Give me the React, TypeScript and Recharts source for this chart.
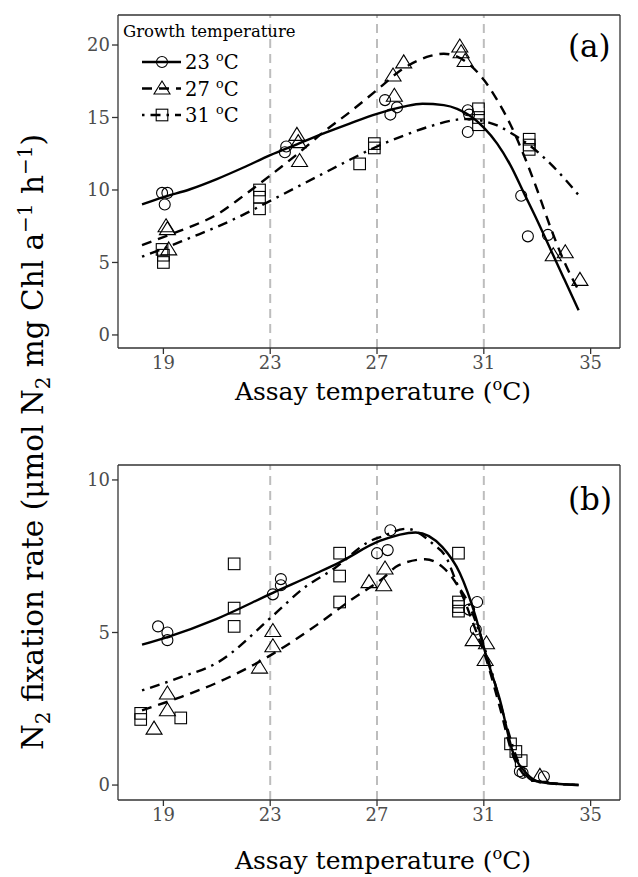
import React from "react";
import { ComposedChart, Line, Scatter, XAxis, YAxis, ReferenceLine } from "recharts";

const serif = '"DejaVu Serif", "Liberation Serif", serif';

// axis ticks
const tempTicks = [19, 23, 27, 31, 35];
const growthTemps = [23, 27, 31];
const rateTicksA = [0, 5, 10, 15, 20];
const rateTicksB = [0, 5, 10];
const seriesLabels = ["23", "27", "31"];

// panel (a) measurements
const a23X = [18.95, 19.15, 19.05, 23.6, 23.55, 27.3, 27.5, 27.75, 30.4, 30.45, 30.4, 32.4, 32.65, 33.4];
const a23Y = [9.8, 9.8, 9.0, 13.0, 12.6, 16.2, 15.2, 15.7, 15.5, 15.2, 14.0, 9.6, 6.8, 6.9];
const a27X = [19.1, 19.15, 19.2, 24.0, 24.05, 24.1, 27.6, 27.65, 28.0, 30.1, 30.15, 30.3, 33.6, 34.05, 34.6];
const a27Y = [7.5, 7.3, 5.9, 13.8, 13.3, 12.0, 17.9, 16.5, 18.8, 19.9, 19.5, 18.9, 5.5, 5.7, 3.8];
const a31X = [18.95, 19.0, 19.0, 22.6, 22.6, 22.6, 26.35, 26.9, 26.9, 30.8, 30.8, 30.8, 32.7, 32.7, 32.7];
const a31Y = [5.9, 5.5, 5.0, 10.0, 9.5, 8.7, 11.8, 13.2, 12.9, 15.6, 15.0, 14.5, 13.5, 13.1, 12.8];

// panel (a) fitted curves
const a23FitX = [18.2, 19, 20, 21, 22, 23, 24, 25, 26, 27, 28, 28.7, 29.5, 30, 30.5, 31, 31.5, 32, 32.5, 33, 33.5, 34, 34.55];
const a23FitY = [9.0, 9.5, 10.05, 10.75, 11.55, 12.4, 13.15, 13.9, 14.6, 15.25, 15.75, 15.95, 15.85, 15.6, 15.1, 14.3, 13.2, 11.7, 9.8, 7.9, 5.9, 3.9, 1.7];
const a27FitX = [18.2, 19, 20, 21, 22, 23, 24, 25, 26, 27, 28, 28.5, 29, 29.5, 30, 30.5, 31, 31.5, 32, 32.5, 33, 33.5, 34, 34.6];
const a27FitY = [6.2, 6.75, 7.45, 8.3, 9.6, 11.0, 12.45, 14.0, 15.4, 16.9, 18.4, 18.9, 19.25, 19.4, 19.2, 18.6, 17.6, 16.2, 14.5, 12.4, 10.0, 7.4, 5.1, 2.9];
const a31FitX = [18.2, 19, 20, 21, 22, 23, 24, 25, 26, 27, 28, 29, 30, 30.5, 31, 31.5, 32, 32.7, 33.5, 34.55];
const a31FitY = [5.4, 5.95, 6.7, 7.45, 8.3, 9.25, 10.2, 11.15, 12.1, 13.0, 13.75, 14.4, 14.85, 14.9, 14.75, 14.45, 13.95, 13.1, 11.8, 9.65];

// panel (b) measurements
const b23X = [18.8, 19.15, 19.15, 23.1, 23.4, 23.4, 27.0, 27.4, 27.5, 30.45, 30.75, 30.7, 32.35, 32.45, 33.25];
const b23Y = [5.2, 5.0, 4.75, 6.25, 6.75, 6.55, 7.6, 7.7, 8.35, 5.75, 6.0, 5.1, 0.45, 0.4, 0.28];
const b27X = [18.65, 19.15, 19.15, 22.6, 23.1, 23.1, 26.7, 27.25, 27.3, 30.6, 31.1, 31.05, 33.1];
const b27Y = [1.85, 3.0, 2.45, 3.85, 5.05, 4.55, 6.65, 6.55, 7.1, 4.75, 4.65, 4.1, 0.3];
const b31X = [18.15, 18.15, 19.65, 21.65, 21.65, 21.65, 25.6, 25.6, 25.6, 30.05, 30.05, 30.05, 30.05, 32.0, 32.2, 32.4];
const b31Y = [2.35, 2.15, 2.2, 7.25, 5.8, 5.2, 7.6, 6.85, 6.0, 7.6, 6.0, 5.85, 5.7, 1.35, 1.1, 0.8];

// panel (b) fitted curves
const b23FitX = [18.2, 19.15, 21, 23.1, 24.75, 25.6, 27.1, 28.45, 29.45, 30.1, 30.7, 31.1, 31.6, 32.1, 32.6, 33.1, 34.55];
const b23FitY = [4.6, 4.85, 5.45, 6.3, 6.95, 7.3, 8.0, 8.28, 7.8, 6.95, 5.5, 4.2, 2.8, 1.05, 0.38, 0.1, 0.0];
const b27FitX = [18.2, 19.7, 21, 23.1, 24.75, 26, 27.25, 27.8, 28.8, 29.45, 30.1, 30.6, 31.1, 31.6, 32.1, 32.85, 34.55];
const b27FitY = [2.45, 2.9, 3.35, 4.3, 5.25, 6.05, 6.8, 7.2, 7.4, 7.15, 6.4, 5.3, 4.1, 2.55, 0.95, 0.15, 0.0];
const b31FitX = [18.2, 19.7, 21, 23.1, 24.25, 25.4, 26.75, 27.2, 28.1, 29.1, 29.6, 30.0, 30.4, 30.8, 31.3, 31.8, 32.3, 32.9, 34.55];
const b31FitY = [3.1, 3.55, 4.0, 5.55, 6.45, 7.1, 8.0, 8.15, 8.4, 7.9, 7.45, 6.6, 6.0, 5.1, 3.7, 2.1, 0.75, 0.12, 0.0];

const zip = (xs: number[], ys: number[]) => xs.map((x, i) => ({ x, y: ys[i] }));

const X_DOMAIN: [number, number] = [17.3, 36.1];
const DASHES = ["none", "10 7", "2.5 6 10 6"];

const CircleMark = (p: any) => (
    <circle cx={p.cx} cy={p.cy} r={5.5} fill="none" stroke="#000" strokeWidth={1.1} />
);
const TriangleMark = (p: any) => (
    <path
        d={`M${p.cx},${p.cy - 7.5} L${p.cx + 8},${p.cy + 5.5} L${p.cx - 8},${p.cy + 5.5} Z`}
        fill="none"
        stroke="#000"
        strokeWidth={1.1}
    />
);
const SquareMark = (p: any) => (
    <rect x={p.cx - 5.8} y={p.cy - 5.8} width={11.6} height={11.6} fill="none" stroke="#000" strokeWidth={1.1} />
);
const MARKS = [CircleMark, TriangleMark, SquareMark];

interface PanelProps {
    top: number;
    height: number;
    plotHeight: number;
    yDomain: [number, number];
    yTicks: number[];
    points: { x: number; y: number }[][];
    fits: { x: number; y: number }[][];
}

function Panel({ top, height, plotHeight, yDomain, yTicks, points, fits }: PanelProps) {
    const axisStroke = { stroke: "#333", strokeWidth: 1.3 };
    const tickStyle = { fill: "#4d4d4d", fontSize: 18, fontFamily: serif };
    return (
        <div style={{ position: "absolute", left: 0, top }}>
            <ComposedChart width={638} height={height} margin={{ top: 15, right: 18, left: 68, bottom: 0 }}>
                <XAxis
                    type="number"
                    dataKey="x"
                    domain={X_DOMAIN}
                    ticks={tempTicks}
                    allowDataOverflow
                    axisLine={axisStroke}
                    tickLine={axisStroke}
                    tickSize={6}
                    tick={tickStyle}
                    height={height - 15 - plotHeight}
                />
                <YAxis
                    type="number"
                    dataKey="y"
                    domain={yDomain}
                    ticks={yTicks}
                    allowDataOverflow
                    axisLine={axisStroke}
                    tickLine={axisStroke}
                    tickSize={6}
                    tick={tickStyle}
                    width={50}
                />
                {growthTemps.map((t) => (
                    <ReferenceLine key={t} x={t} stroke="#bdbdbd" strokeWidth={2} strokeDasharray="9 6" />
                ))}
                <ReferenceLine y={yDomain[1]} stroke="#333" strokeWidth={1.3} />
                <ReferenceLine x={X_DOMAIN[1]} stroke="#333" strokeWidth={1.3} />
                {points.map((d, i) => (
                    <Scatter key={"p" + i} data={d} dataKey="y" shape={MARKS[i]} isAnimationActive={false} />
                ))}
                {fits.map((d, i) => (
                    <Line
                        key={"f" + i}
                        data={d}
                        dataKey="y"
                        type="monotone"
                        stroke="#000"
                        strokeWidth={2.4}
                        strokeDasharray={DASHES[i] === "none" ? undefined : DASHES[i]}
                        dot={false}
                        activeDot={false}
                        isAnimationActive={false}
                    />
                ))}
            </ComposedChart>
        </div>
    );
}

function Degree({ x, y, size, anchor, before, after }: { x: number; y: number; size: number; anchor?: string; before: string; after?: string }) {
    return (
        <text x={x} y={y} fontSize={size} fontFamily={serif} fill="#000" textAnchor={anchor as any}>
            {before}
            <tspan dy={-size * 0.4} fontSize={size * 0.65}>o</tspan>
            <tspan dy={size * 0.4}>C{after || ""}</tspan>
        </text>
    );
}

function Overlay() {
    return (
        <svg width={638} height={877} style={{ position: "absolute", left: 0, top: 0, pointerEvents: "none" }}>
            {/* y title */}
            <text
                transform="translate(43,442) rotate(-90)"
                textAnchor="middle"
                fontSize={29.5}
                fontFamily={serif}
                fill="#000"
            >
                N<tspan dy={7} fontSize={20}>2</tspan>
                <tspan dy={-7}> fixation rate (μmol N</tspan>
                <tspan dy={7} fontSize={20}>2</tspan>
                <tspan dy={-7}> mg Chl a</tspan>
                <tspan dy={-11} fontSize={20}>−1</tspan>
                <tspan dy={11}> h</tspan>
                <tspan dy={-11} fontSize={20}>−1</tspan>
                <tspan dy={11}>)</tspan>
            </text>
            {/* x titles */}
            <Degree x={383} y={400} size={25} anchor="middle" before="Assay temperature (" after=")" />
            <Degree x={383} y={869} size={25} anchor="middle" before="Assay temperature (" after=")" />
            {/* panel letters */}
            <text x={568} y={57} fontSize={31} fontFamily={serif} fill="#000">(a)</text>
            <text x={568} y={510} fontSize={31} fontFamily={serif} fill="#000">(b)</text>
            {/* legend */}
            <text x={123} y={37} fontSize={16.5} fontFamily={serif} fill="#000">Growth temperature</text>
            {seriesLabels.map((lab, i) => {
                const cy = 62 + i * 26.5;
                const Mark = MARKS[i];
                return (
                    <g key={lab}>
                        <line
                            x1={142}
                            x2={181}
                            y1={cy}
                            y2={cy}
                            stroke="#000"
                            strokeWidth={2.4}
                            strokeDasharray={DASHES[i] === "none" ? undefined : DASHES[i]}
                        />
                        <Mark cx={162} cy={cy} />
                        <Degree x={185} y={cy + 7} size={19.5} before={lab + " "} />
                    </g>
                );
            })}
        </svg>
    );
}

export default function App() {
    const pointsA = [zip(a23X, a23Y), zip(a27X, a27Y), zip(a31X, a31Y)];
    const fitsA = [zip(a23FitX, a23FitY), zip(a27FitX, a27FitY), zip(a31FitX, a31FitY)];
    const pointsB = [zip(b23X, b23Y), zip(b27X, b27Y), zip(b31X, b31Y)];
    const fitsB = [zip(b23FitX, b23FitY), zip(b27FitX, b27FitY), zip(b31FitX, b31FitY)];
    return (
        <div style={{ position: "absolute", left: 0, top: 0, width: 638, height: 877, background: "#fff" }}>
            <Panel top={0} height={430} plotHeight={333} yDomain={[-0.9, 22.07]} yTicks={rateTicksA} points={pointsA} fits={fitsA} />
            <Panel top={450} height={427} plotHeight={335} yDomain={[-0.49, 10.49]} yTicks={rateTicksB} points={pointsB} fits={fitsB} />
            <Overlay />
        </div>
    );
}
